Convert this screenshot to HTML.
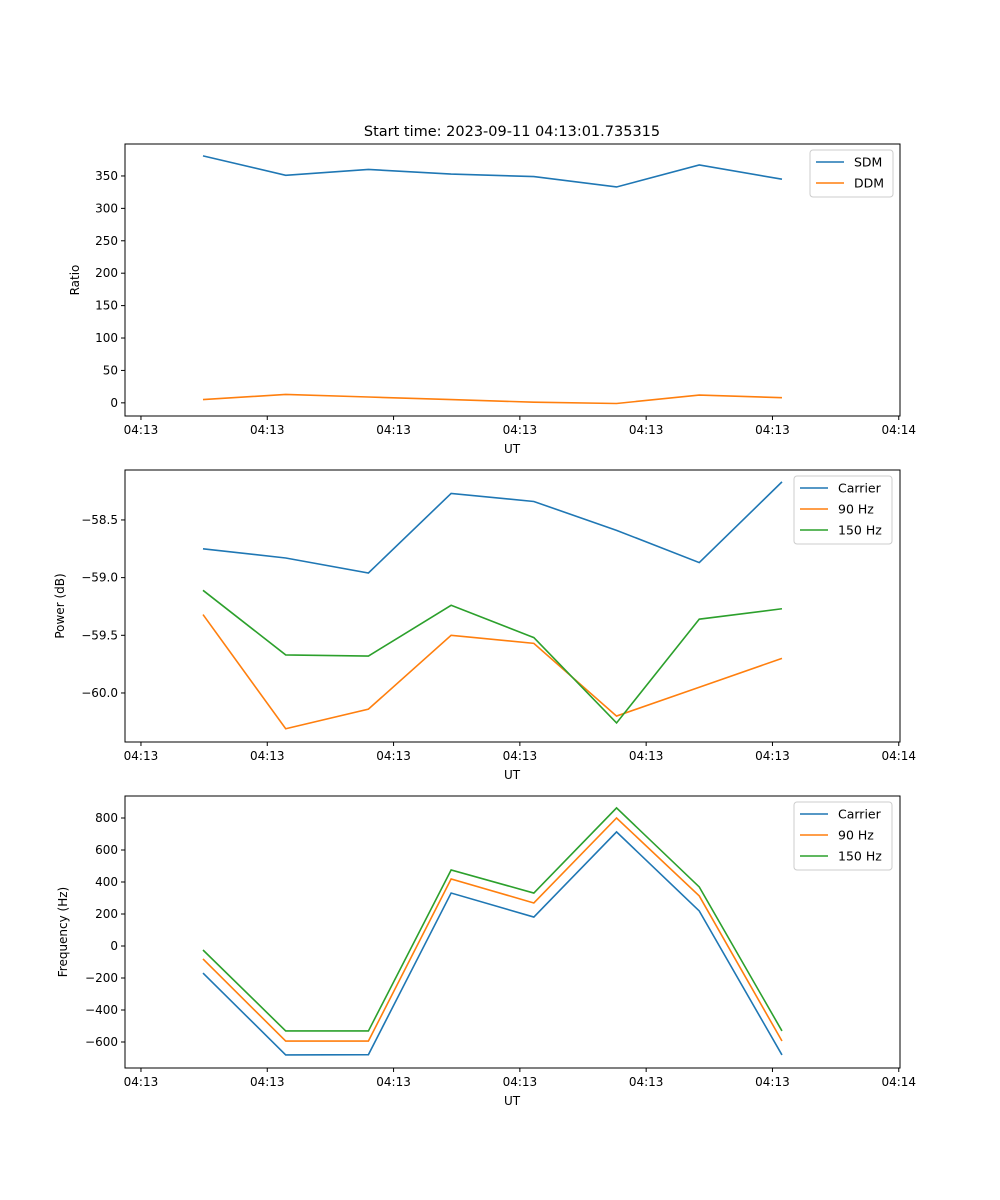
<!DOCTYPE html>
<html><head><meta charset="utf-8">
<style>
html,body{margin:0;padding:0;background:#fff;}
svg{display:block;font-family:"DejaVu Sans","Liberation Sans",sans-serif;}
</style></head>
<body>
<svg id="fig" width="1000" height="1200" viewBox="0 0 1000 1200"></svg>
<script>
const categories = [0,1,2,3,4,5,6,7];
const xTickVals = [-0.75,0.777,2.304,3.831,5.358,6.885,8.412];
const xTickLabels = ["04:13","04:13","04:13","04:13","04:13","04:13","04:14"];
const sdm = [381,351,360,353,349,333,367,345];
const ddm = [5,13,9,5,1,-1,12,8];
const powCarrier = [-58.75,-58.83,-58.96,-58.27,-58.34,-58.59,-58.87,-58.17];
const pow90 = [-59.32,-60.31,-60.14,-59.50,-59.57,-60.20,-59.95,-59.70];
const pow150 = [-59.11,-59.67,-59.68,-59.24,-59.52,-60.26,-59.36,-59.27];
const freqCarrier = [-169,-681,-679,331,181,713,219,-681];
const freq90 = [-81,-594,-594,419,269,800,313,-594];
const freq150 = [-25,-531,-531,475,331,863,369,-531];
const ratioTicks = [0,50,100,150,200,250,300,350];
const powTicks = [-60.0,-59.5,-59.0,-58.5];
const freqTicks = [-600,-400,-200,0,200,400,600,800];

const NS="http://www.w3.org/2000/svg";
const svg=document.getElementById('fig');
function el(tag,attrs,parent){const e=document.createElementNS(NS,tag);for(const k in attrs)e.setAttribute(k,attrs[k]);(parent||svg).appendChild(e);return e;}
const L=125,R=900,XMIN=-0.943,XMAX=8.427;
const xs=v=>L+(v-XMIN)/(XMAX-XMIN)*(R-L);
const C=['#1f77b4','#ff7f0e','#2ca02c'];

function panel(name,top,bot,ymin,ymax,yTicks,fmt,ylabel,series,legend,title){
  const g=el('g',{});
  
  
  const ys=v=>bot-(v-ymin)/(ymax-ymin)*(bot-top);
  if(title){const t=el('text',{x:512,y:top-8,'text-anchor':'middle','font-size':14.5,fill:'#000'},g);t.textContent=title;
    }
  series.forEach((s,i)=>{
    const p=el('polyline',{points:s.vals.map((v,j)=>xs(categories[j])+','+ys(v)).join(' '),fill:'none',stroke:C[i],'stroke-width':1.6},g);
    
    
  });
  el('rect',{x:L,y:top,width:R-L,height:bot-top,fill:'none',stroke:'#000','stroke-width':1},g);
  xTickVals.forEach((v,i)=>{
    const x=xs(v);
    el('line',{x1:x,x2:x,y1:bot,y2:bot+4,stroke:'#000'},g);
    const t=el('text',{x:x,y:bot+18,'text-anchor':'middle','font-size':12},g);t.textContent=xTickLabels[i];
    
  });
  yTicks.forEach(v=>{
    const y=ys(v);
    el('line',{x1:L-4,x2:L,y1:y,y2:y,stroke:'#000'},g);
    const t=el('text',{x:L-7,y:y+4,'text-anchor':'end','font-size':12},g);t.textContent=fmt(v);
    
  });
  const xl=el('text',{x:512,y:bot+37,'text-anchor':'middle','font-size':12},g);xl.textContent='UT';
  
  const cy=(top+bot)/2;
  const yl=el('text',{x:0,y:0,'text-anchor':'middle','font-size':12,transform:`translate(${legend.yl},${cy}) rotate(-90)`},g);yl.textContent=ylabel;
  
  const lg=el('g',{},g);
  
  const h=5+series.length*21;
  el('rect',{x:legend.x,y:top+6,width:legend.w,height:h,rx:3,fill:'#fff',stroke:'#ccc'},lg);
  series.forEach((s,i)=>{
    const y=top+18+i*21;
    el('line',{x1:legend.x+6,x2:legend.x+34,y1:y,y2:y,stroke:C[i],'stroke-width':1.6},lg);
    const t=el('text',{x:legend.x+44,y:y+4.5,'font-size':12.5},lg);t.textContent=s.name;
    
  });
}
panel('ratio-panel',144,416,-20.3,399.3,ratioTicks,v=>String(v),'Ratio',
  [{name:'SDM',vals:sdm},{name:'DDM',vals:ddm}],{x:810,w:83,yl:79},'Start time: 2023-09-11 04:13:01.735315');
panel('power-panel',470,742,-60.425,-58.067,powTicks,v=>'\u2212'+Math.abs(v).toFixed(1),'Power (dB)',
  [{name:'Carrier',vals:powCarrier},{name:'90 Hz',vals:pow90},{name:'150 Hz',vals:pow150}],{x:794,w:98,yl:64});
panel('frequency-panel',796,1068,-762.5,937.5,freqTicks,v=>(v<0?'\u2212':'')+Math.abs(v),'Frequency (Hz)',
  [{name:'Carrier',vals:freqCarrier},{name:'90 Hz',vals:freq90},{name:'150 Hz',vals:freq150}],{x:794,w:98,yl:67});
</script>
</body></html>
